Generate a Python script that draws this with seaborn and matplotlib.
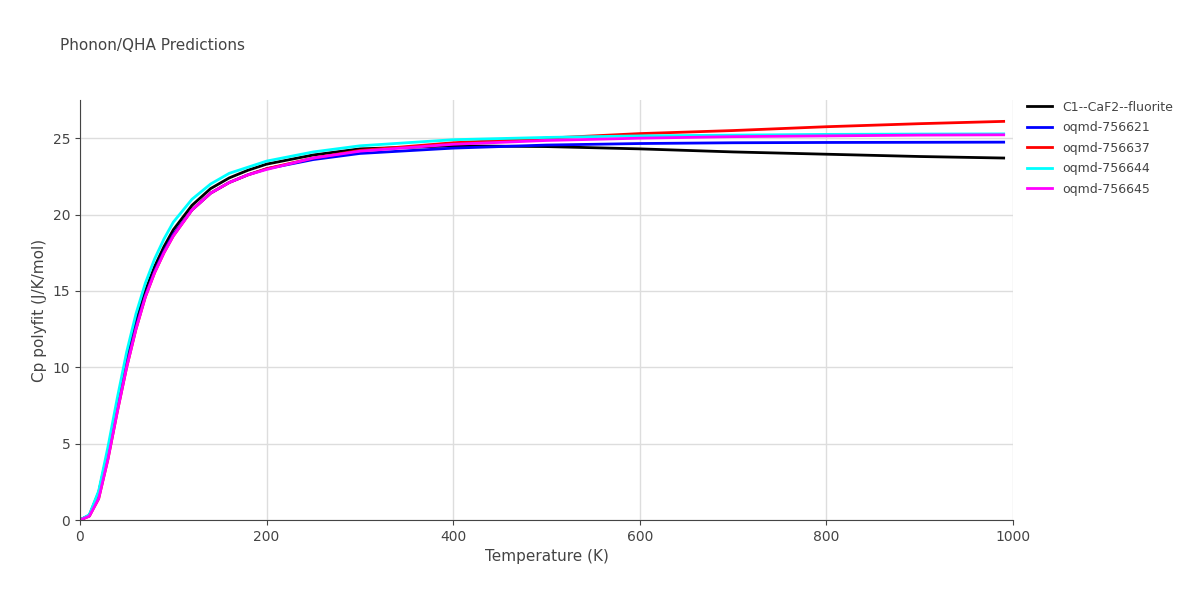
import matplotlib
matplotlib.use("Agg")
import matplotlib.pyplot as plt
import seaborn as sns
import pandas as pd

temps = [0, 10, 20, 30, 40, 50, 60, 70, 80, 90, 100, 120, 140, 160, 180, 200, 250, 300, 400, 500, 600, 700, 800, 900, 990]
c1_caf2 = [0, 0.3, 1.8, 4.5, 7.6, 10.5, 13.0, 15.0, 16.6, 17.9, 19.0, 20.6, 21.7, 22.4, 22.9, 23.3, 23.9, 24.3, 24.5, 24.45, 24.3, 24.1, 23.95, 23.8, 23.7]
oqmd_756621 = [0, 0.3, 1.6, 4.2, 7.3, 10.2, 12.7, 14.7, 16.3, 17.6, 18.7, 20.3, 21.4, 22.1, 22.6, 23.0, 23.6, 24.0, 24.35, 24.55, 24.65, 24.7, 24.72, 24.73, 24.74]
oqmd_756637 = [0, 0.25, 1.4, 4.0, 7.1, 10.0, 12.5, 14.6, 16.2, 17.5, 18.6, 20.3, 21.4, 22.1, 22.6, 23.0, 23.7, 24.2, 24.7, 25.0, 25.3, 25.5, 25.75, 25.95, 26.1]
oqmd_756644 = [0, 0.35, 1.9, 4.8, 8.0, 11.0, 13.5, 15.5, 17.1, 18.4, 19.5, 21.0, 22.0, 22.7, 23.1, 23.5, 24.1, 24.5, 24.9, 25.05, 25.15, 25.2, 25.25, 25.27, 25.28]
oqmd_756645 = [0, 0.25, 1.4, 4.0, 7.1, 10.0, 12.5, 14.6, 16.2, 17.5, 18.6, 20.3, 21.4, 22.1, 22.6, 22.95, 23.7, 24.15, 24.6, 24.85, 25.0, 25.1, 25.15, 25.2, 25.22]

series = {
    "C1--CaF2--fluorite": c1_caf2,
    "oqmd-756621": oqmd_756621,
    "oqmd-756637": oqmd_756637,
    "oqmd-756644": oqmd_756644,
    "oqmd-756645": oqmd_756645,
}
colors = ["black", "blue", "red", "cyan", "magenta"]

df = pd.concat([pd.DataFrame({"T": temps, "Cp": v, "name": k}) for k, v in series.items()])

fig = plt.figure(figsize=(12, 6), dpi=100)
ax = fig.add_axes([80 / 1200, 80 / 600, 933 / 1200, 420 / 600])
sns.lineplot(data=df, x="T", y="Cp", hue="name", palette=colors, linewidth=2, ax=ax)

ax.set_xlim(0, 1000)
ax.set_ylim(0, 27.5)
ax.set_yticks([0, 5, 10, 15, 20, 25])
ax.set_xticks([0, 200, 400, 600, 800, 1000])
ax.grid(color="#dddddd", linewidth=1)
ax.set_axisbelow(True)
for s in ["top", "right"]:
    ax.spines[s].set_visible(False)
for s in ["left", "bottom"]:
    ax.spines[s].set_color("#444444")
ax.tick_params(colors="#444444", labelsize=10)
ax.set_xlabel("Temperature (K)", color="#444444", fontsize=11)
ax.set_ylabel("Cp polyfit (J/K/mol)", color="#444444", fontsize=11)
fig.text(60 / 1200, 1 - 45 / 600, "Phonon/QHA Predictions", color="#444444", fontsize=11, va="center")
leg = ax.legend(loc="upper left", bbox_to_anchor=(1.01, 1.01), frameon=False, fontsize=9,
                title=None, handlelength=2, borderaxespad=0, labelspacing=0.6)
for t in leg.get_texts():
    t.set_color("#444444")

fig.savefig("out.png")
